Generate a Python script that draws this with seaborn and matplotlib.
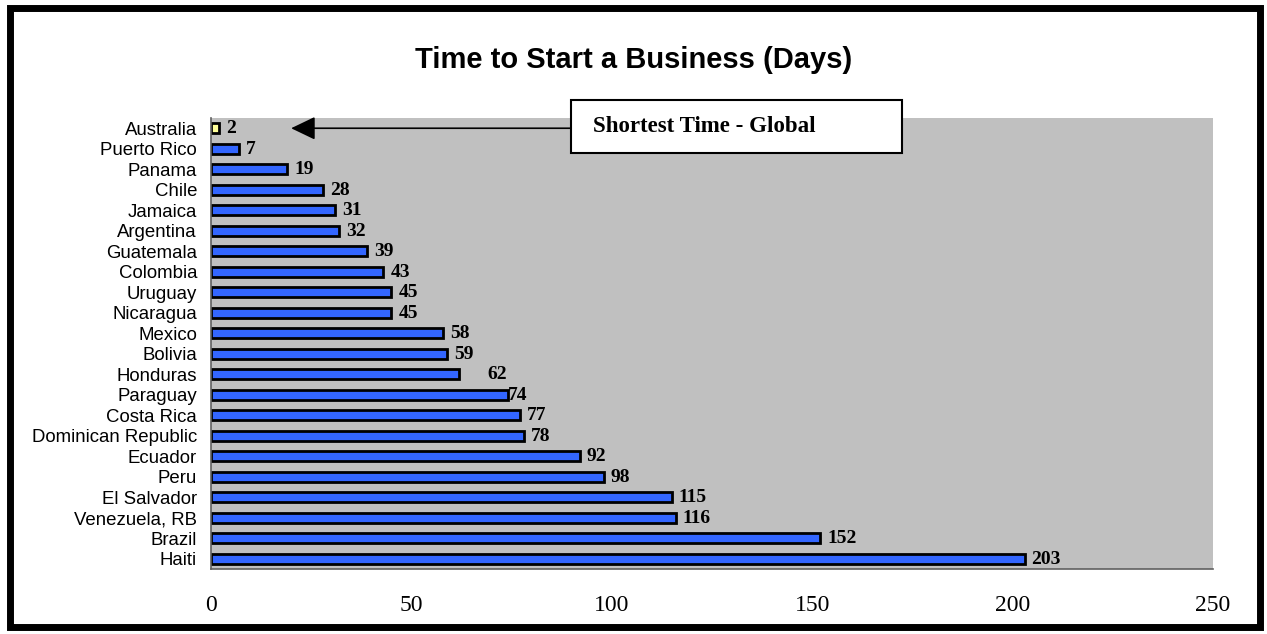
import matplotlib
matplotlib.use("Agg")
import matplotlib.pyplot as plt
import seaborn as sns
import pandas as pd
from matplotlib.patches import Rectangle

countries = ["Australia", "Puerto Rico", "Panama", "Chile", "Jamaica", "Argentina",
             "Guatemala", "Colombia", "Uruguay", "Nicaragua", "Mexico", "Bolivia",
             "Honduras", "Paraguay", "Costa Rica", "Dominican Republic", "Ecuador",
             "Peru", "El Salvador", "Venezuela, RB", "Brazil", "Haiti"]
days = [2, 7, 19, 28, 31, 32, 39, 43, 45, 45, 58, 59, 62, 74, 77, 78, 92, 98,
        115, 116, 152, 203]
x_ticks = [0, 50, 100, 150, 200, 250]

df = pd.DataFrame({"country": countries, "days": days})
palette = {c: ("#FFFF99" if c == "Australia" else "#3366FF") for c in countries}

sns.set_style("white")
plt.rcParams["text.color"] = "black"
plt.rcParams["xtick.color"] = "black"
plt.rcParams["ytick.color"] = "black"

fig = plt.figure(figsize=(12.67, 6.34), dpi=100)
ax = fig.add_axes([0.1665, 0.1025, 0.7909, 0.7114])
ax.set_facecolor("#C0C0C0")

sns.barplot(data=df, y="country", x="days", hue="country", palette=palette,
            order=countries, orient="h", width=0.5, dodge=False, legend=False,
            edgecolor="black", linewidth=2, saturation=1, ax=ax)

# value labels; a couple of them sit slightly off the bar end
label_pad = {"Honduras": 15, "Paraguay": -5}
for i, (c, v) in enumerate(zip(countries, days)):
    ax.annotate(str(v), xy=(v, i), xytext=(5 + label_pad.get(c, 0), -0.5),
                textcoords="offset points", va="center", ha="left",
                fontsize=14, fontweight="bold", family="Liberation Serif",
                color="black")

ax.set_xlim(0, 250)
ax.set_ylim(len(countries) - 0.5, -0.5)
ax.set_xticks(x_ticks)
ax.set_xticklabels([str(t) for t in x_ticks], family="Liberation Serif", fontsize=17)
ax.set_yticks(range(len(countries)))
ax.set_yticklabels(countries, family="Liberation Sans", fontsize=13.4)
ax.set_yticks([i - 0.5 for i in range(len(countries) + 1)], minor=True)
ax.tick_params(axis="y", which="major", length=0, pad=10)
ax.tick_params(axis="y", which="minor", length=5, width=1, color="#404040", direction="out")
ax.tick_params(axis="x", length=8, width=1, color="#404040", direction="out", pad=11)
ax.set_xlabel("")
ax.set_ylabel("")
for s in ["top", "right"]:
    ax.spines[s].set_visible(False)
for s in ["left", "bottom"]:
    ax.spines[s].set_color("#606060")
    ax.spines[s].set_linewidth(1.2)

fig.text(0.5, 1 - 60 / 634, "Time to Start a Business (Days)", ha="center", va="center",
         fontsize=21, fontweight="bold", family="Liberation Sans", color="black")

# callout box with arrow pointing at the shortest time
ax.annotate("", xy=(20, 0), xytext=(89.8, 0),
            arrowprops=dict(arrowstyle="-|>,head_length=1.5,head_width=0.72",
                            mutation_scale=10, color="black", lw=1.2,
                            shrinkA=0, shrinkB=0))
box = Rectangle((571 / 1267, 1 - 153 / 634), (902 - 571) / 1267, (153 - 100) / 634,
                transform=fig.transFigure, facecolor="white", edgecolor="black",
                linewidth=1.5, zorder=5)
fig.add_artist(box)
fig.text(593 / 1267, 1 - 126 / 634, "Shortest Time - Global", ha="left", va="center",
         fontsize=16.5, fontweight="bold", family="Liberation Serif", color="black",
         zorder=6)

# heavy outer frame
frame = Rectangle((9.5 / 1267, 1 - 626.5 / 634), (1260 - 9.5) / 1267, (626.5 - 8) / 634,
                  transform=fig.transFigure, facecolor="none", edgecolor="black",
                  linewidth=5, zorder=10)
fig.add_artist(frame)

fig.savefig("out.png", dpi=100, facecolor="white")
